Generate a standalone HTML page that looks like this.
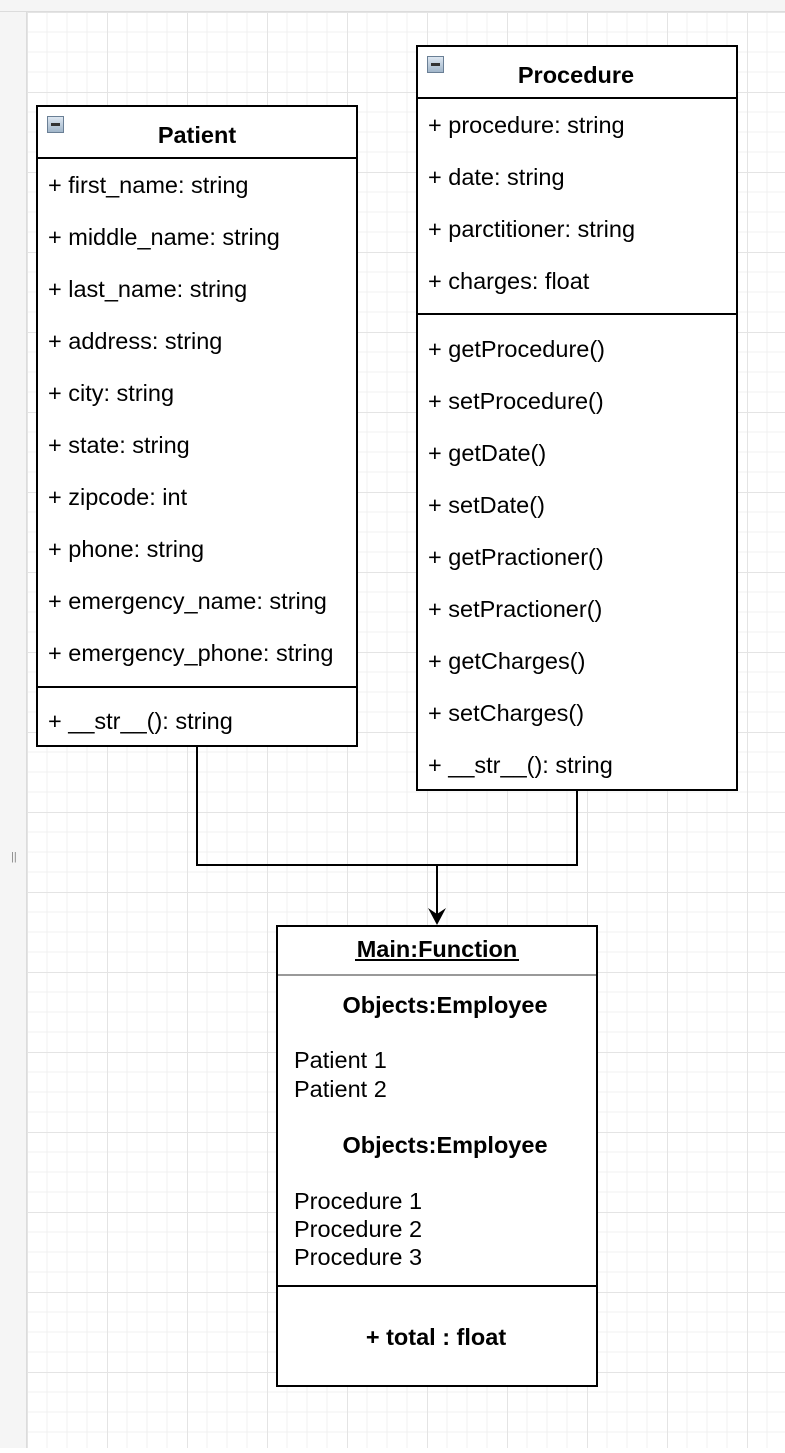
<!DOCTYPE html>
<html><head><meta charset="utf-8"><style>
body{margin:0;width:785px;height:1448px;overflow:hidden;background:#fff;font-family:"Liberation Sans",Arial,sans-serif}
</style></head><body>
<svg width="785" height="1448" xmlns="http://www.w3.org/2000/svg" font-family="Liberation Sans, Arial, sans-serif">
<defs>
<pattern id="g" x="27" y="12" width="80" height="80" patternUnits="userSpaceOnUse">
<path d="M20 0V80M40 0V80M60 0V80M0 20H80M0 40H80M0 60H80" stroke="#f0f0f0" stroke-width="1"/>
<path d="M0.5 0V80M0 0.5H80" stroke="#e4e4e4" stroke-width="1"/>
</pattern>
<linearGradient id="ic" x1="0" y1="0" x2="0" y2="1"><stop offset="0" stop-color="#dfe8f2"/><stop offset="1" stop-color="#9fb4c8"/></linearGradient>
</defs>
<rect width="785" height="1448" fill="#f5f5f5"/>
<rect x="27" y="12" width="758" height="1436" fill="#fff"/>
<rect x="27" y="12" width="758" height="1436" fill="url(#g)"/>
<line x1="0" y1="11.5" x2="785" y2="11.5" stroke="#dcdcdc"/>
<line x1="26.5" y1="12" x2="26.5" y2="1448" stroke="#dcdcdc"/>
<text x="11" y="860" font-size="11" fill="#888">||</text>

<path d="M197 746V865H577V790M437 865V918" fill="none" stroke="#000" stroke-width="2"/>
<path d="M428 908L437 925L446 908L437 914Z" fill="#000"/>

<rect x="37" y="106" width="320" height="640" fill="#fff" stroke="#000" stroke-width="2"/>
<line x1="37" y1="158" x2="357" y2="158" stroke="#000" stroke-width="2"/>
<line x1="37" y1="687" x2="357" y2="687" stroke="#000" stroke-width="2"/>
<rect x="47.5" y="116.5" width="16" height="16" fill="url(#ic)" stroke="#6a7f95"/>
<rect x="51" y="123" width="9" height="3" fill="#333"/>
<text x="197" y="143" font-size="23.5" font-weight="bold" text-anchor="middle">Patient</text>
<g font-size="23.5" fill="#000">
<text x="48" y="193">+ first_name: string</text>
<text x="48" y="245">+ middle_name: string</text>
<text x="48" y="297">+ last_name: string</text>
<text x="48" y="349">+ address: string</text>
<text x="48" y="401">+ city: string</text>
<text x="48" y="453">+ state: string</text>
<text x="48" y="505">+ zipcode: int</text>
<text x="48" y="557">+ phone: string</text>
<text x="48" y="609">+ emergency_name: string</text>
<text x="48" y="661">+ emergency_phone: string</text>
<text x="48" y="729">+ __str__(): string</text>
</g>

<rect x="417" y="46" width="320" height="744" fill="#fff" stroke="#000" stroke-width="2"/>
<line x1="417" y1="98" x2="737" y2="98" stroke="#000" stroke-width="2"/>
<line x1="417" y1="314" x2="737" y2="314" stroke="#000" stroke-width="2"/>
<rect x="427.5" y="56.5" width="16" height="16" fill="url(#ic)" stroke="#6a7f95"/>
<rect x="431" y="63" width="9" height="3" fill="#333"/>
<text x="576" y="83" font-size="23.5" font-weight="bold" text-anchor="middle">Procedure</text>
<g font-size="23.5" fill="#000">
<text x="428" y="133">+ procedure: string</text>
<text x="428" y="185">+ date: string</text>
<text x="428" y="237">+ parctitioner: string</text>
<text x="428" y="289">+ charges: float</text>
<text x="428" y="357">+ getProcedure()</text>
<text x="428" y="409">+ setProcedure()</text>
<text x="428" y="461">+ getDate()</text>
<text x="428" y="513">+ setDate()</text>
<text x="428" y="565">+ getPractioner()</text>
<text x="428" y="617">+ setPractioner()</text>
<text x="428" y="669">+ getCharges()</text>
<text x="428" y="721">+ setCharges()</text>
<text x="428" y="773">+ __str__(): string</text>
</g>

<rect x="277" y="926" width="320" height="460" fill="#fff" stroke="#000" stroke-width="2"/>
<line x1="278" y1="975" x2="596" y2="975" stroke="#999" stroke-width="2"/>
<line x1="277" y1="1286" x2="597" y2="1286" stroke="#000" stroke-width="2"/>
<text x="437" y="957" font-size="23.5" font-weight="bold" text-anchor="middle">Main:Function</text>
<line x1="355" y1="960" x2="519" y2="960" stroke="#000" stroke-width="2"/>
<g font-size="23.5">
<text x="445" y="1013" font-weight="bold" text-anchor="middle">Objects:Employee</text>
<text x="294" y="1068">Patient 1</text>
<text x="294" y="1097">Patient 2</text>
<text x="445" y="1153" font-weight="bold" text-anchor="middle">Objects:Employee</text>
<text x="294" y="1209">Procedure 1</text>
<text x="294" y="1237">Procedure 2</text>
<text x="294" y="1265">Procedure 3</text>
<text x="436" y="1345" font-weight="bold" text-anchor="middle">+ total : float</text>
</g>
</svg>
</body></html>
